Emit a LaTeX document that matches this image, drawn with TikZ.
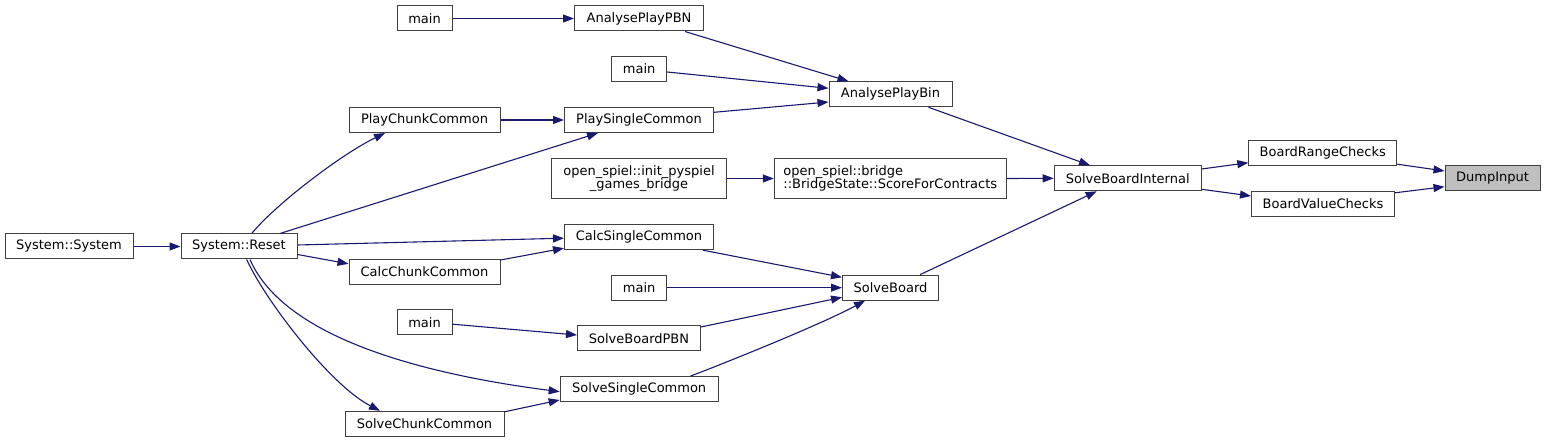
\documentclass[tikz,border=0pt]{standalone}
\usepackage{fontspec}
\setmainfont{DejaVu Sans}
\usetikzlibrary{arrows.meta}
\definecolor{edgec}{HTML}{191970}
\definecolor{boxc}{HTML}{404040}
\definecolor{hl}{HTML}{BFBFBF}
\tikzset{
 fn/.style={draw=boxc, line width=1pt, fill=white, rectangle, inner sep=0pt, minimum height=25pt, font=\fontsize{13}{13}\selectfont, text=black},
 fn2/.style={fn, minimum height=40pt},
 e/.style={draw=edgec, line width=1.1pt, -{Triangle[length=11pt,width=8pt]}},
}
\begin{document}
\begin{tikzpicture}[x=1pt,y=-1pt]
\useasboundingbox (0,0) rectangle (1545,443);
% nodes
\node[fn, minimum width=55pt] (main1) at (424.5,18.5) {main};
\node[fn, minimum width=129pt] (apbn) at (639,18.5) {AnalysePlayPBN};
\node[fn, minimum width=55pt] (main2) at (639.2,69) {main};
\node[fn, minimum width=123pt] (apbin) at (890.5,94.3) {AnalysePlayBin};
\node[fn, minimum width=151pt] (pcc) at (424.5,120) {PlayChunkCommon};
\node[fn, minimum width=149pt] (psc) at (639,120) {PlaySingleCommon};
\node[fn2, minimum width=175pt, align=center] (init) at (639,178.5) {open\_spiel::init\_pyspiel\\\_games\_bridge};
\node[fn2, minimum width=232pt, align=left] (score) at (890.3,178.5) {open\_spiel::bridge\\::BridgeState::ScoreForContracts};
\node[fn, minimum width=147pt] (sbi) at (1127.7,178.3) {SolveBoardInternal};
\node[fn, minimum width=148pt] (brc) at (1322.8,153.2) {BoardRangeChecks};
\node[fn, minimum width=143pt] (bvc) at (1323,203.8) {BoardValueChecks};
\node[fn, minimum width=95pt, fill=hl] (dump) at (1492.5,178.3) {DumpInput};
\node[fn, minimum width=128pt] (sys) at (69,246.5) {System::System};
\node[fn, minimum width=116pt] (reset) at (239,246.5) {System::Reset};
\node[fn, minimum width=149pt] (csc) at (639,237.2) {CalcSingleCommon};
\node[fn, minimum width=151pt] (ccc) at (424.5,271.8) {CalcChunkCommon};
\node[fn, minimum width=55pt] (main3) at (639.2,287.7) {main};
\node[fn, minimum width=96pt] (sb) at (890.5,287.7) {SolveBoard};
\node[fn, minimum width=55pt] (main4) at (424.5,322.2) {main};
\node[fn, minimum width=123pt] (sbpbn) at (639,338.5) {SolveBoardPBN};
\node[fn, minimum width=158pt] (ssc) at (639.2,389.2) {SolveSingleCommon};
\node[fn, minimum width=159pt] (scc) at (424.5,423.8) {SolveChunkCommon};
% edges
\draw[e] (main1.east) -- (apbn.west);
\draw[e] ([xshift=46pt]apbn.south) -- ([xshift=-42pt]apbin.north);
\draw[e] ([yshift=-3pt]main2.east) -- ([yshift=6pt]apbin.west);
\draw[e] ([yshift=7.7pt]psc.east) -- ([yshift=-7.7pt]apbin.west);
\draw[e] (pcc.east) -- (psc.west);
\draw[e] ([xshift=41pt]reset.north) -- ([xshift=-41pt]psc.south);
\draw[e] ([xshift=12.7pt]reset.north) .. controls (275,205) and (340,155) .. ([xshift=-39.5pt]pcc.south);
\draw[e] ([yshift=1.5pt]reset.east) -- ([yshift=-1pt]csc.west);
\draw[e] ([yshift=-8pt]reset.east) -- ([yshift=8pt]ccc.west);
\draw[e] ([yshift=11.8pt]ccc.east) -- ([yshift=-11pt]csc.west);
\draw[e] ([xshift=7.7pt]reset.south) .. controls (265,300) and (330,385) .. ([xshift=-44.5pt]scc.north);
\draw[e] ([xshift=11pt]reset.south) .. controls (285,340) and (430,375) .. ([yshift=-2.5pt]ssc.west);
\draw[e] ([yshift=12pt]scc.east) -- ([yshift=-10.8pt]ssc.west);
\draw[e] ([yshift=-2pt]main4.east) -- ([yshift=3.5pt]sbpbn.west);
\draw[e] ([xshift=64pt]csc.south) -- ([yshift=10.4pt]sb.west);
\draw[e] (main3.east) -- (sb.west);
\draw[e] ([yshift=11.5pt]sbpbn.east) -- ([yshift=-9.6pt]sb.west);
\draw[e] ([xshift=51pt]ssc.north) .. controls (720,365) and (820,325) .. ([xshift=-25.5pt]sb.south);
\draw[e] ([xshift=38pt]apbin.south) -- ([xshift=-37.7pt]sbi.north);
\draw[e] (score.east) -- (sbi.west);
\draw[e] ([xshift=29.5pt]sb.north) -- ([xshift=-31pt]sbi.south);
\draw[e] (init.east) -- (score.west);
\draw[e] ([yshift=9.3pt]sbi.east) -- ([yshift=-9.5pt]brc.west);
\draw[e] ([yshift=-11pt]sbi.east) -- ([yshift=7.8pt]bvc.west);
\draw[e] ([yshift=-11pt]brc.east) -- ([yshift=7.3pt]dump.west);
\draw[e] ([yshift=11pt]bvc.east) -- ([yshift=-8.4pt]dump.west);
\draw[e] (sys.east) -- (reset.west);
\end{tikzpicture}
\end{document}
